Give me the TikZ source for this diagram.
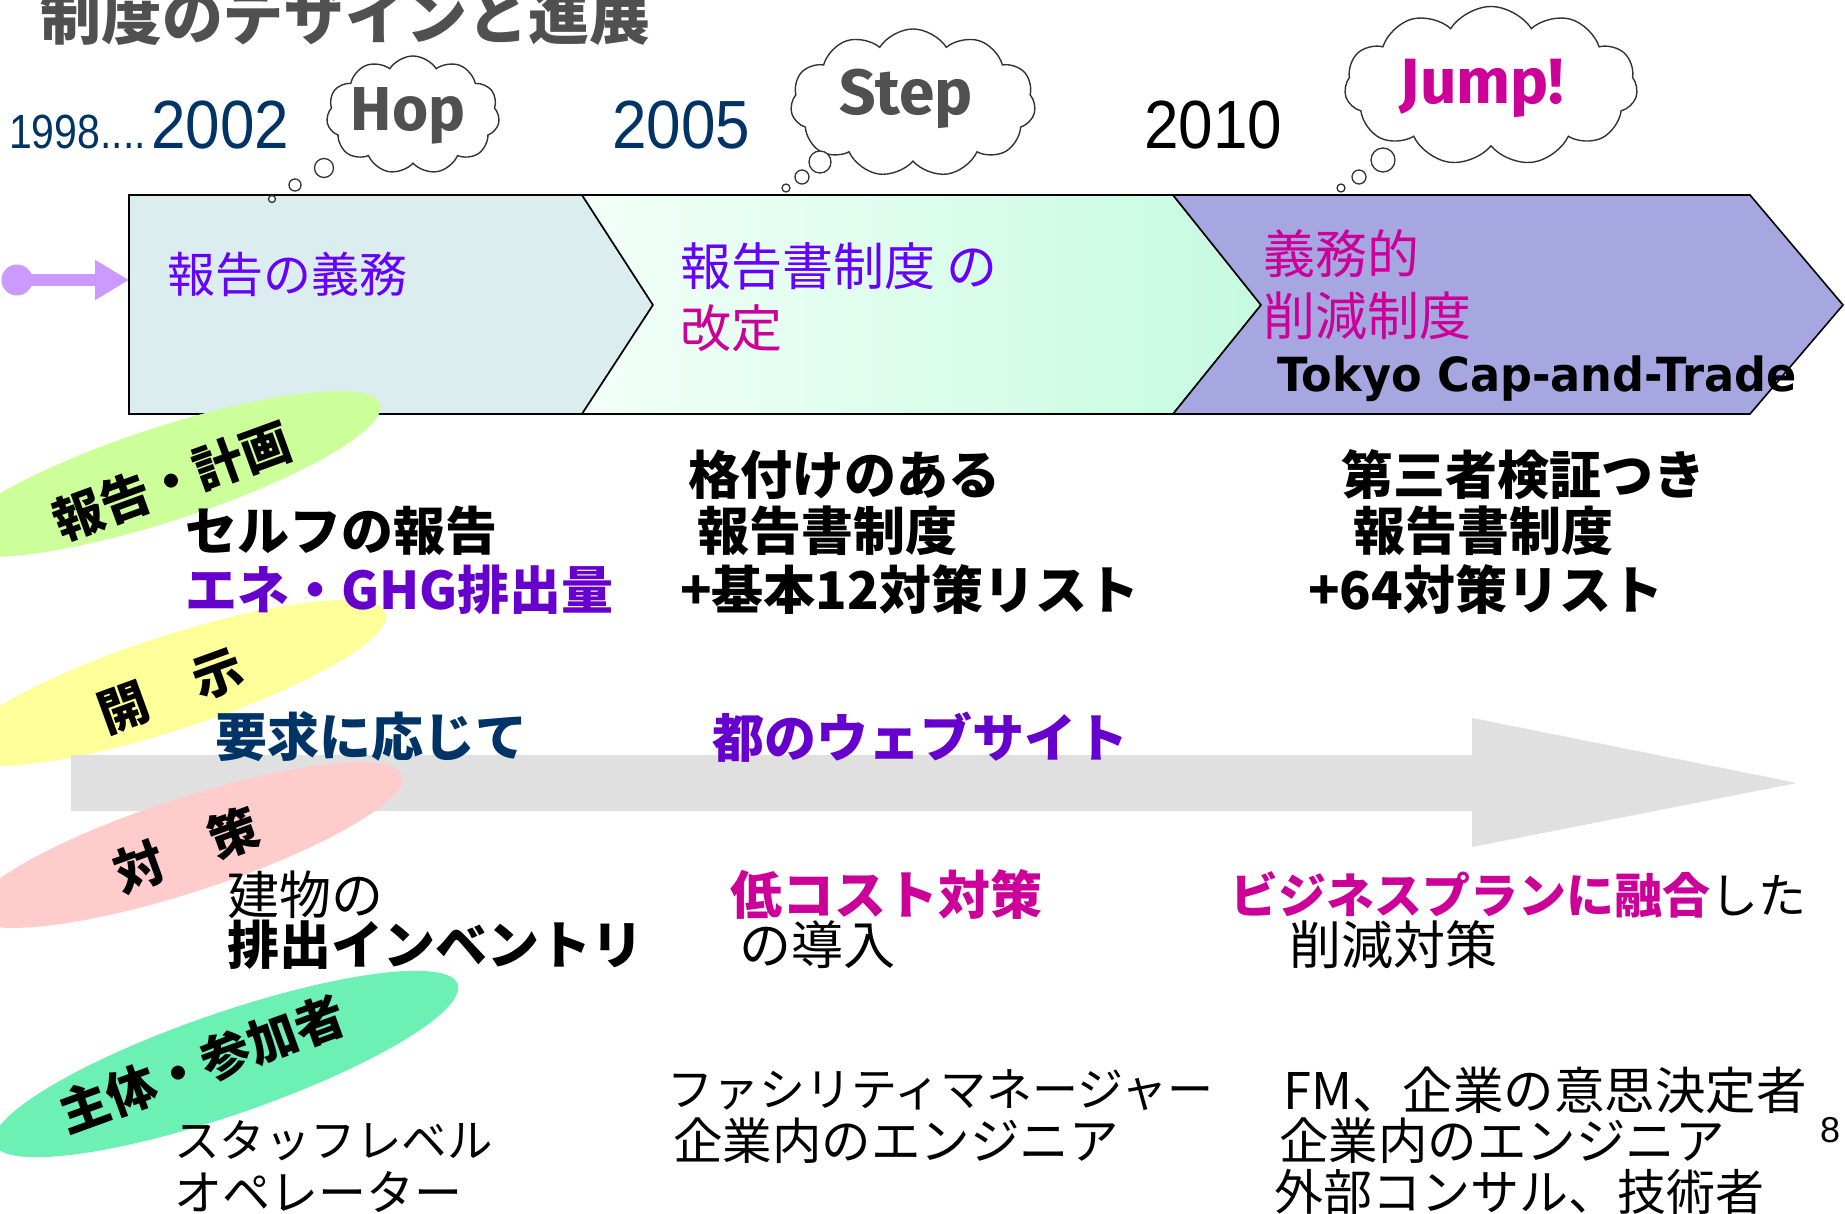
\documentclass[tikz,border=0pt]{standalone}
\usepackage{fontspec}
\usetikzlibrary{shapes.symbols,shapes.geometric,arrows.meta}
\newfontfamily\jp{Noto Sans CJK JP}
\newfontfamily\arialf{Liberation Sans}
\newfontfamily\dejav{DejaVu Sans}
\newfontfamily\comicf{Fira Sans}
\newcommand\setfs[1]{\fontsize{#1}{#1}\selectfont}
\definecolor{navy}{HTML}{003366}
\definecolor{titlegray}{HTML}{505050}
\definecolor{boxA}{HTML}{DCEDEF}
\definecolor{boxBl}{HTML}{F2FFF8}
\definecolor{boxBr}{HTML}{C6FBE0}
\definecolor{boxC}{HTML}{A6A6E0}
\definecolor{ellG}{HTML}{CCFF99}
\definecolor{ellY}{HTML}{FFFF99}
\definecolor{ellP}{HTML}{FFCCCC}
\definecolor{ellT}{HTML}{6CF0B4}
\definecolor{arrowPurple}{HTML}{CC99FF}
\definecolor{purpA}{HTML}{6600FF}
\definecolor{purpB}{HTML}{6600CC}
\definecolor{mag}{HTML}{CC0099}
\definecolor{bigarrow}{HTML}{E0E0E0}
\definecolor{cloudline}{HTML}{333333}
\tikzset{
  chev/.style={draw=black, line width=1.6pt, line join=miter},
  cloudy/.style={cloud, cloud puffs=11, cloud puff arc=115, cloud ignores aspect, draw=cloudline, fill=white, line width=1.4pt, inner sep=0},
  bub/.style={circle, draw=cloudline, fill=white, line width=1.3pt, inner sep=0},
  oval/.style={ellipse, inner sep=0, draw=none},
  lbl/.style={inner sep=0, font=\jp\bfseries\setfs{50}, text=black},
  jb/.style={inner sep=0, anchor=west, font=\jp\bfseries\setfs{52}, text=black},
  jr/.style={inner sep=0, anchor=west, font=\jp\setfs{52}, text=black},
  jsm/.style={inner sep=0, anchor=west, font=\jp\setfs{48}, text=black},
  boxtxt/.style={inner sep=0, anchor=west, font=\jp\setfs{51}},
  yr/.style={inner sep=0, anchor=base west, text=navy},
  hsj/.style={inner sep=0, font=\comicf\bfseries\setfs{62}, text=titlegray}
}
\begin{document}
\begin{tikzpicture}[x=1pt,y=-1pt]
\useasboundingbox (0,0) rectangle (1845,1214);
% title
\node[inner sep=0, anchor=west, font=\jp\bfseries\setfs{61}, text=titlegray] (title) at (40,16) {制度のデザインと進展};
% years
\node[yr, font=\arialf\setfs{41}] (y1998) at (9,149) {\scalebox{1}[1.17]{1998....}};
\node[yr, font=\arialf\setfs{62}] (y2002) at (151,149) {\scalebox{1}[1.1]{2002}};
\node[yr, font=\arialf\setfs{62}] (y2005) at (612,149) {\scalebox{1}[1.1]{2005}};
\node[yr, font=\arialf\setfs{62}, text=black] (y2010) at (1144,149) {\scalebox{1}[1.1]{2010}};
% chevrons
\path[chev, fill=boxA] (129,195) -- (582,195) -- (653,305) -- (582,414) -- (129,414) -- cycle;
\path[chev, left color=boxBl, right color=boxBr] (582,195) -- (1173,195) -- (1261,305) -- (1173,414) -- (582,414) -- (653,305) -- cycle;
\path[chev, fill=boxC] (1173,195) -- (1750,195) -- (1843,305) -- (1750,414) -- (1173,414) -- (1261,305) -- cycle;
\coordinate (boxW) at (129,280);
% purple entry arrow
\node[circle, fill=arrowPurple, minimum size=31pt, inner sep=0] (dot) at (17,280) {};
\draw[arrowPurple, line width=12pt, -{Triangle[length=34pt,width=38pt]}] (dot.center) -- (boxW);
% clouds
\node[cloudy, minimum width=173pt, minimum height=118pt] (hopc) at (413,115) {};
\node[cloudy, minimum width=245pt, minimum height=148pt] (stepc) at (913,103) {};
\node[cloudy, minimum width=293pt, minimum height=159pt] (jumpc) at (1491,86) {};
\node[hsj] (hop) at (408,116) {Hop};
\node[hsj, font=\comicf\bfseries\setfs{64}] (step) at (906,99) {Step};
\node[hsj, font=\comicf\bfseries\setfs{64}, text=mag] (jump) at (1482,88) {Jump!};
\node[bub, minimum size=19pt] (hb1) at (324,168) {};
\node[bub, minimum size=12pt] (hb2) at (295,185) {};
\node[bub, minimum size=7pt] (hb3) at (272,199) {};
\node[bub, minimum size=22pt] (sb1) at (820,162) {};
\node[bub, minimum size=14pt] (sb2) at (802,177) {};
\node[bub, minimum size=8pt] (sb3) at (786,188) {};
\node[bub, minimum size=24pt] (jb1) at (1383,160) {};
\node[bub, minimum size=14pt] (jb2) at (1359,177) {};
\node[bub, minimum size=8pt] (jb3) at (1341,188) {};
% box texts
\node[boxtxt, text=purpA, font=\jp\setfs{48}] (b1) at (167,274) {報告の義務};
\node[boxtxt, text=purpA] (b2) at (680,266) {報告書制度 の};
\node[boxtxt, text=mag] (b2b) at (680,328) {改定};
\node[boxtxt, text=mag, font=\jp\setfs{52}] (b3) at (1263,254) {義務的};
\node[boxtxt, text=mag, font=\jp\setfs{52}] (b3b) at (1263,316) {削減制度};
\node[inner sep=0, anchor=base west, font=\dejav\bfseries\setfs{47}] (tokyo) at (1277,392) {\scalebox{0.95}[1]{Tokyo Cap-and-Trade}};
% ovals (rows)
\node[oval, fill=ellG, minimum width=452pt, minimum height=94pt, rotate=18] (eG) at (165,474) {};
\node[oval, fill=ellY, minimum width=452pt, minimum height=94pt, rotate=18] (eY) at (171,683) {};
\fill[bigarrow] (71,755) -- (1472,755) -- (1472,718) -- (1797,783) -- (1472,847) -- (1472,811) -- (71,811) -- cycle;
\node[oval, fill=ellP, minimum width=452pt, minimum height=94pt, rotate=18] (eP) at (187,845) {};
\node[oval, fill=ellT, minimum width=490pt, minimum height=102pt, rotate=19] (eT) at (226,1064) {};
\node[lbl, rotate=20] (lG) at (172,481) {報告・計画};
\node[lbl, rotate=20] (lY) at (171,691) {開　示};
\node[lbl, rotate=20] (lP) at (186,850) {対　策};
\node[lbl, rotate=20] (lT) at (202,1064) {主体・参加者};
% row 1
\node[jb] (r1a) at (185,531) {セルフの報告};
\node[jb, text=purpB] (r1b) at (185,590) {エネ・GHG排出量};
\node[jb] (r1c) at (688,475) {格付けのある};
\node[jb] (r1d) at (697,531) {報告書制度};
\node[jb] (r1e) at (680,590) {+基本12対策リスト};
\node[jb] (r1f) at (1341,475) {第三者検証つき};
\node[jb] (r1g) at (1353,531) {報告書制度};
\node[jb] (r1h) at (1308,590) {+64対策リスト};
% row 2
\node[jb, text=navy] (r2a) at (215,737) {要求に応じて};
\node[jb, text=purpB] (r2b) at (712,737) {都のウェブサイト};
% row 3
\node[jr] (r3a) at (227,895) {建物の};
\node[jb] (r3b) at (227,945) {排出インベントリ};
\node[jb, text=mag] (r3c) at (730,895) {低コスト対策};
\node[jr] (r3d) at (739,945) {の導入};
\node[jr, font=\jp\setfs{48}] (r3e) at (1230,895) {{\bfseries\color{mag}ビジネスプランに融合}した};
\node[jr] (r3f) at (1289,945) {削減対策};
% row 4
\node[jsm, font=\jp\setfs{45.5}] (r4a) at (174,1141) {スタッフレベル};
\node[jsm] (r4b) at (174,1192) {オペレーター};
\node[jsm, font=\jp\setfs{46}] (r4c) at (667,1090) {ファシリティマネージャー};
\node[jsm, font=\jp\setfs{49.5}] (r4d) at (673,1141) {企業内のエンジニア};
\node[jsm, font=\jp\setfs{50.5}] (r4e) at (1283,1090) {FM、企業の意思決定者};
\node[jsm, font=\jp\setfs{49.5}] (r4f) at (1279,1141) {企業内のエンジニア};
\node[jsm, font=\jp\setfs{49}] (r4g) at (1274,1192) {外部コンサル、技術者};
\node[inner sep=0, font=\arialf\setfs{36}] (pg) at (1830,1130) {8};
\end{tikzpicture}
\end{document}
